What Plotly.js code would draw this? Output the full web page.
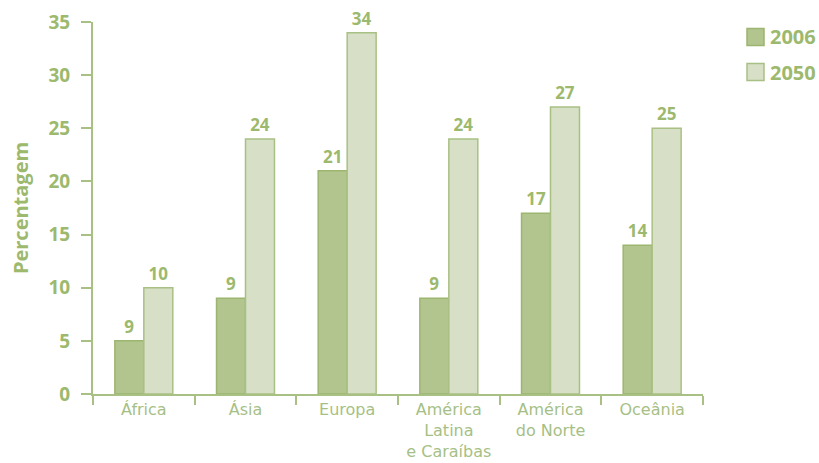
<!DOCTYPE html>
<html>
<head>
<meta charset="utf-8">
<script src="https://cdn.plot.ly/plotly-3.0.1.min.js"></script>
<style>html,body{margin:0;padding:0;background:#fff}</style>
</head>
<body>
<div id="chart" style="width:819px;height:463px"></div>
<script>
const categories = ["África", "Ásia", "Europa", "América<br>Latina<br>e Caraíbas", "América<br>do Norte", "Oceânia"];
const seriesNames = ["2006", "2050"];
const values2006 = [5, 9, 21, 9, 17, 14];
const labels2006 = ["9", "9", "21", "9", "17", "14"];
const values2050 = [10, 24, 34, 24, 27, 25];
const labels2050 = ["10", "24", "34", "24", "27", "25"];
const yTicks = [0, 5, 10, 15, 20, 25, 30, 35];

const green = "#9db96d";
const axisColor = "#a9c084";
const fill2006 = "#b3c58f";
const line2006 = "#9cb56f";
const fill2050 = "#d7e0c6";
const line2050 = "#a9c084";
const font = "'Open Sans', 'Noto Sans', sans-serif";
const labelFont = "'DejaVu Sans', 'Open Sans', sans-serif";

const traces = [
  {type: "bar", name: seriesNames[0], x: categories, y: values2006, text: labels2006,
   textposition: "outside", cliponaxis: false, textfont: {family: font, size: 17, color: green, weight: "bold"},
   marker: {color: fill2006, line: {color: line2006, width: 1.5}}, hoverinfo: "none"},
  {type: "bar", name: seriesNames[1], x: categories, y: values2050, text: labels2050,
   textposition: "outside", cliponaxis: false, textfont: {family: font, size: 17, color: green, weight: "bold"},
   marker: {color: fill2050, line: {color: line2050, width: 1.5}}, hoverinfo: "none"}
];

const legendShapes = [];
const legendAnn = [];
const legendFills = [[fill2006, line2006], [fill2050, line2050]];
const legendY = [37, 72];
seriesNames.forEach((n, i) => {
  legendShapes.push({type: "rect", xref: "paper", yref: "paper",
    x0: (747 - 93) / 610, x1: (764 - 93) / 610,
    y0: (394 - legendY[i] - 8.5) / 372, y1: (394 - legendY[i] + 8.5) / 372,
    fillcolor: legendFills[i][0], line: {color: legendFills[i][1], width: 1.5}});
  legendAnn.push({xref: "paper", yref: "paper", x: (768 - 93) / 610, y: (394 - legendY[i]) / 372,
    xanchor: "left", yanchor: "middle", showarrow: false, text: "<b>" + n + "</b>",
    font: {family: font, size: 20, color: green}});
});

const layout = {
  width: 819, height: 463,
  margin: {l: 93, r: 116, t: 22, b: 69},
  paper_bgcolor: "#ffffff", plot_bgcolor: "#ffffff",
  showlegend: false,
  barmode: "group", bargap: 0.43, bargroupgap: 0,
  font: {family: font, color: green},
  xaxis: {
    showgrid: false, showline: true, linecolor: axisColor, linewidth: 2,
    ticks: "outside", tickson: "boundaries", ticklen: 9, tickwidth: 2, tickcolor: axisColor,
    tickfont: {family: labelFont, size: 16, color: "#a6bf86"}, zeroline: false, fixedrange: true
  },
  yaxis: {
    range: [0, 35], tickvals: yTicks, showgrid: false, showline: true, linecolor: axisColor, linewidth: 2,
    ticks: "outside", ticklen: 10, tickwidth: 2, tickcolor: axisColor, zeroline: false,
    tickfont: {family: font, size: 19, color: green, weight: "bold"},
    ticklabelstandoff: 7,
    title: {text: "<b>Percentagem</b>", font: {family: font, size: 20, color: green}, standoff: 14},
    fixedrange: true
  },
  shapes: legendShapes,
  annotations: legendAnn
};

Plotly.newPlot("chart", traces, layout, {displayModeBar: false, staticPlot: true});
</script>
</body>
</html>
